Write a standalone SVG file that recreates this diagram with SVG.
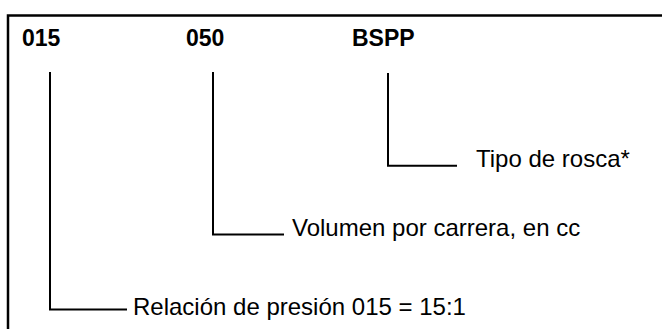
<svg xmlns="http://www.w3.org/2000/svg" width="662" height="329" viewBox="0 0 662 329">
<style>
.ln{fill:none;stroke:#000;stroke-width:2;stroke-linecap:butt;stroke-linejoin:miter}
.hd{font-family:"Liberation Sans",Arial,Helvetica,sans-serif;font-weight:bold;font-size:23px;fill:#000}
.lb{font-family:"Liberation Sans",Arial,Helvetica,sans-serif;font-size:24px;fill:#000}
</style>
<rect width="662" height="329" fill="#fff"/>
<path class="ln" d="M8,329 V15.5 H662" style="stroke-width:2.5"/>
<g id="code-015"><text class="hd" x="22" y="46">015</text></g>
<g id="code-050"><text class="hd" x="186" y="46">050</text></g>
<g id="code-bspp"><text class="hd" x="352" y="46">BSPP</text></g>
<g id="label-rosca"><text class="lb" x="476" y="167">Tipo de rosca*</text></g>
<g id="label-volumen"><text class="lb" x="292" y="235.5">Volumen por carrera, en cc</text></g>
<g id="label-relacion"><text class="lb" x="133" y="315">Relación de presión 015 = 15:1</text></g>
<g id="connectors">
<path class="ln" d="M50,72 V309.5 H127"/>
<path class="ln" d="M213,72 V234.5 H284"/>
<path class="ln" d="M388,73 V165.7 H457"/>
</g>
</svg>
